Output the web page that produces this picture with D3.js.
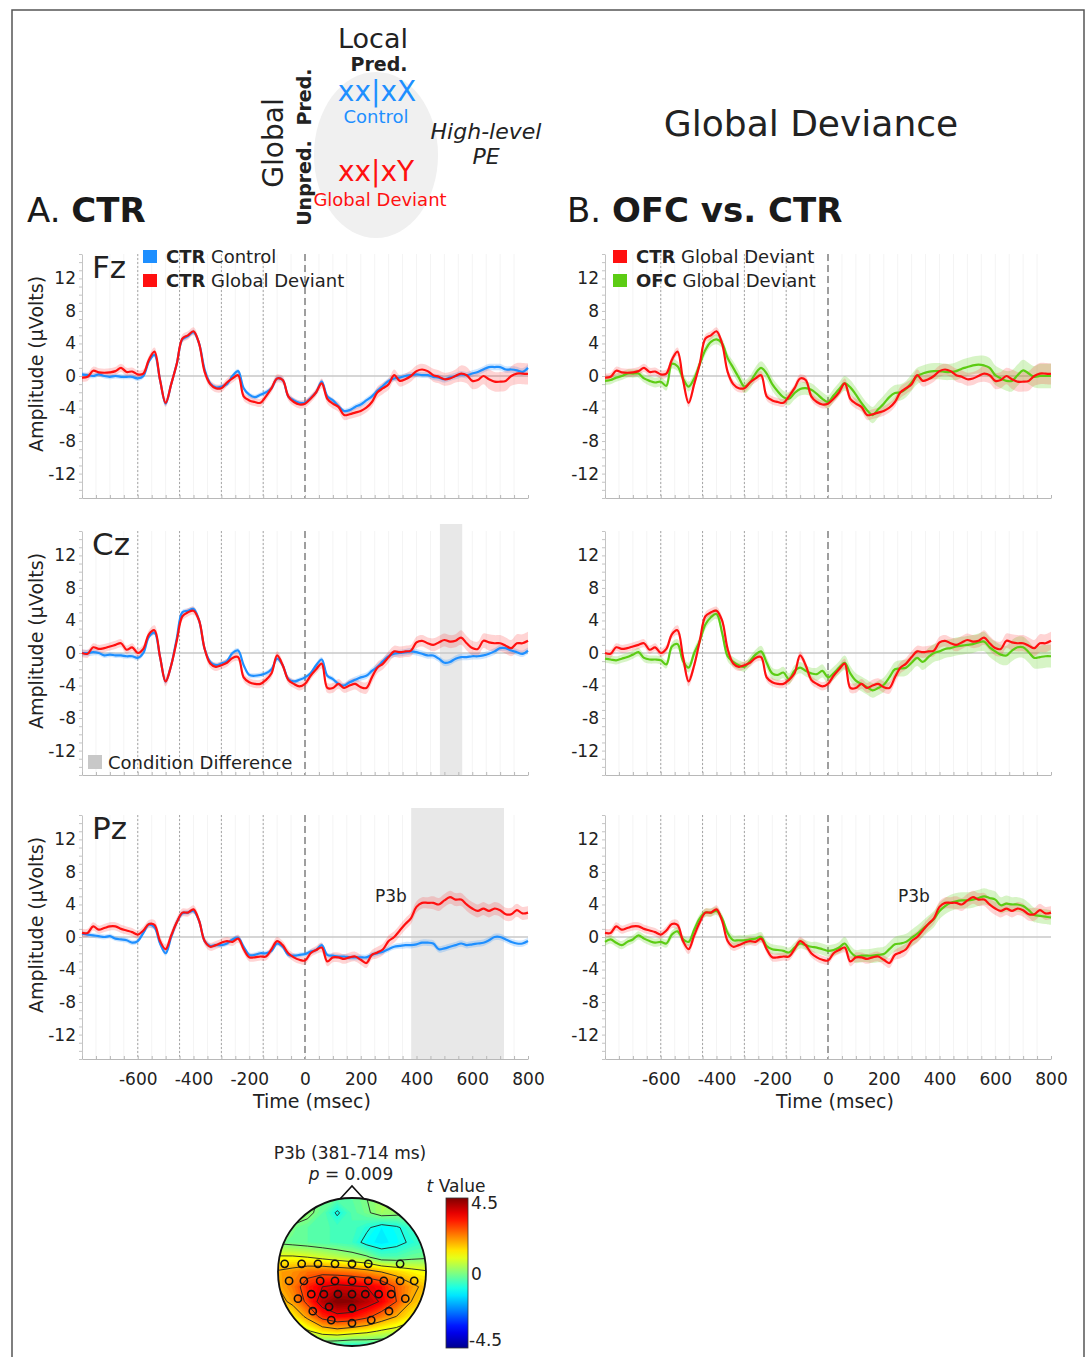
<!DOCTYPE html>
<html>
<head>
<meta charset="utf-8">
<script src="https://cdn.jsdelivr.net/npm/d3@7"></script>
<style>
  body { margin: 0; background: #fff; }
  svg text { font-family: "DejaVu Sans", Verdana, sans-serif; }
</style>
</head>
<body>
<div id="fig"></div>
<script>
// ---- data: ERP waveforms sampled every 20 ms from -800 to 800 ms (µV) ----
const times = d3.range(-800, 801, 20);

const fzCtrControl = [0.2,0.1,0.0,0.2,0.0,-0.1,0.0,-0.1,-0.1,-0.1,
  -0.3,0.0,1.8,2.6,-0.5,-3.4,-1.0,1.5,4.5,4.9,
  5.4,4.0,0.8,-0.9,-1.4,-1.3,-1.0,0.0,0.6,-1.5,
  -2.3,-2.6,-2.3,-2.0,-1.5,-0.3,-0.5,-2.5,-3.0,-3.3,
  -3.3,-2.7,-2.0,-0.7,-2.5,-3.0,-3.7,-4.3,-4.2,-3.8,
  -3.5,-3.0,-2.5,-1.8,-1.2,-0.6,-0.3,-0.2,0.0,0.1,
  0.2,0.1,0.1,-0.1,-0.2,-0.4,-0.2,0.0,0.2,0.1,
  0.3,0.5,0.8,1.1,1.1,1.1,0.8,0.8,0.7,0.5,1.0];
const fzCtrDeviant = [-0.2,-0.1,0.65,0.45,0.4,0.45,0.6,1.0,0.5,0.55,
  0.2,0.3,2.0,3.0,-0.5,-3.3,-1.0,1.5,4.6,5.0,
  5.5,4.0,0.5,-1.0,-1.5,-1.5,-0.8,-0.3,0.1,-2.5,
  -3.0,-3.2,-3.3,-2.5,-1.5,-0.3,-0.5,-2.5,-3.2,-3.5,
  -3.4,-2.8,-2.0,-0.9,-2.8,-3.4,-3.8,-4.8,-4.7,-4.5,
  -4.3,-3.9,-3.2,-2.0,-1.5,-1.0,0.1,-0.6,-0.4,0.0,
  0.6,0.8,0.6,0.1,-0.1,-0.4,-0.3,0.0,0.3,0.1,
  -0.6,-0.5,0.0,-0.4,-0.7,-0.7,-0.6,0.0,0.3,0.3,0.25];
const fzOfcDeviant = [-0.6,-0.5,-0.2,0.0,0.3,0.3,0.3,-0.3,-0.6,-0.8,
  -0.7,-1.2,1.5,1.2,-0.3,-1.3,-0.3,1.5,3.2,4.2,
  4.5,4.0,2.2,1.0,-0.2,-1.3,-0.8,0.3,1.0,0.3,
  -1.0,-1.9,-2.6,-2.8,-2.1,-1.6,-1.5,-1.7,-2.2,-2.8,
  -3.2,-2.4,-1.6,-0.9,-1.4,-2.3,-3.3,-4.2,-4.8,-4.1,
  -3.4,-2.6,-2.1,-2.0,-1.6,-0.8,0.0,0.3,0.5,0.6,
  0.6,0.5,0.5,0.6,0.9,1.1,1.3,1.4,1.3,1.0,
  0.1,-0.3,-0.6,-0.6,0.1,0.7,0.3,-0.1,0.0,0.0,0.0];

const czCtrControl = [0.0,0.0,0.1,0.0,-0.3,-0.2,-0.3,-0.3,-0.4,-0.4,
  -0.6,0.0,2.0,2.5,-0.5,-3.5,-1.5,1.8,5.0,5.2,
  5.4,4.0,0.5,-1.1,-1.5,-1.3,-1.0,0.0,0.3,-1.5,
  -2.7,-2.8,-2.7,-2.5,-2.0,-0.7,-1.5,-3.2,-3.5,-3.3,
  -3.0,-2.5,-1.5,-0.8,-2.8,-3.2,-3.8,-4.0,-3.6,-3.3,
  -3.0,-2.8,-2.2,-1.7,-1.0,-0.4,-0.1,0.0,0.1,0.2,
  0.1,-0.1,-0.3,-0.3,-0.7,-1.2,-1.1,-0.7,-0.5,-0.5,
  -0.4,-0.4,-0.3,-0.1,0.2,0.6,0.6,0.3,0.1,-0.1,0.3];
const czCtrDeviant = [0.0,-0.1,0.7,0.5,0.6,0.8,1.0,1.2,0.4,0.7,
  0.0,0.5,2.3,2.8,-0.5,-3.5,-1.5,1.5,4.5,5.0,
  5.2,4.0,0.5,-1.3,-1.7,-1.5,-1.2,-0.6,-0.5,-3.0,
  -3.6,-3.8,-3.8,-3.3,-2.5,-0.3,-1.5,-3.3,-3.8,-4.1,
  -3.8,-2.8,-2.0,-1.3,-4.3,-4.3,-3.8,-4.3,-4.0,-3.8,
  -4.2,-4.3,-3.0,-1.8,-1.3,-0.5,0.2,0.1,0.2,0.3,
  1.3,1.5,1.2,1.0,1.3,1.6,1.4,1.5,1.9,1.2,
  0.6,0.5,1.5,1.3,1.2,1.2,0.9,0.6,1.2,1.2,1.5];
const czOfcDeviant = [-0.7,-0.8,-0.9,-0.7,-0.5,-0.2,0.1,-0.6,-0.8,-0.8,
  -0.9,-1.4,0.8,1.1,-1.0,-1.8,0.0,1.5,3.5,4.4,
  4.8,2.5,-0.4,-1.1,-1.5,-1.7,-1.0,-0.2,0.2,-1.2,
  -2.5,-2.7,-2.4,-3.2,-2.2,-1.8,-2.2,-2.5,-2.6,-2.2,
  -3.0,-2.5,-1.8,-1.2,-2.5,-3.4,-3.8,-4.2,-4.6,-4.3,
  -3.9,-3.0,-2.0,-1.9,-1.8,-1.2,-0.6,-1.1,-0.5,0.0,
  0.2,0.5,0.6,0.8,0.9,1.0,1.1,1.3,1.4,0.7,
  0.2,-0.2,-0.3,0.3,0.7,0.7,0.1,-0.6,-0.5,-0.4,-0.4];

const pzCtrControl = [0.4,0.3,0.2,0.1,0.0,0.1,-0.2,-0.3,-0.4,-0.7,
  -0.5,0.5,1.5,1.2,-0.8,-2.0,0.0,1.8,2.9,3.0,
  3.2,2.0,-0.5,-1.1,-1.0,-1.0,-0.8,-0.3,-0.1,-1.2,
  -2.2,-2.2,-2.0,-2.0,-1.7,-0.8,-1.2,-2.2,-2.3,-2.2,
  -2.1,-1.8,-1.6,-1.0,-2.2,-2.3,-2.4,-2.4,-2.5,-2.5,
  -2.5,-2.5,-2.2,-2.0,-1.8,-1.5,-1.2,-1.1,-1.0,-1.0,
  -0.9,-0.7,-0.7,-0.8,-1.5,-1.4,-1.2,-1.0,-0.8,-1.0,
  -0.9,-0.8,-0.7,-0.4,0.0,0.0,-0.3,-0.6,-0.8,-0.8,-0.5];
const pzCtrDeviant = [0.5,0.5,1.3,0.9,1.1,1.3,1.3,1.0,0.8,0.6,
  0.3,0.8,1.6,1.5,-0.5,-1.5,0.2,1.8,3.0,3.0,
  3.4,2.0,-0.5,-1.2,-1.0,-0.7,-0.5,-0.6,-0.2,-1.5,
  -2.5,-2.5,-2.4,-2.4,-1.5,-0.5,-1.0,-2.0,-2.5,-2.8,
  -2.9,-2.0,-1.6,-1.3,-3.0,-2.5,-2.5,-2.7,-2.5,-2.4,
  -2.8,-3.2,-2.2,-1.9,-1.5,-0.5,0.0,0.8,1.6,2.3,
  3.7,4.2,4.2,4.2,4.0,4.5,4.9,4.6,4.6,4.0,
  3.5,3.2,3.5,3.2,3.5,3.3,2.8,2.8,3.3,2.9,3.0];
const pzOfcDeviant = [-0.6,-0.3,-0.7,-1.0,-0.6,-0.3,0.2,-0.2,-0.5,-0.7,
  -0.6,-0.8,0.3,0.7,-0.3,-0.6,0.9,2.3,3.0,3.0,
  3.2,2.3,0.5,-0.4,-0.4,-0.4,-0.3,-0.2,0.0,-1.1,
  -1.5,-1.6,-1.7,-1.9,-1.3,-0.8,-1.0,-1.2,-1.3,-1.5,
  -1.7,-1.6,-1.3,-0.8,-1.8,-2.4,-2.3,-2.3,-2.3,-2.2,
  -2.1,-1.5,-0.9,-0.8,-0.6,-0.1,0.4,1.0,1.6,2.2,
  3.2,3.8,4.2,4.4,4.5,4.5,4.6,4.8,5.0,4.8,
  4.6,3.9,4.1,4.0,4.0,3.8,3.3,2.7,2.6,2.5,2.4];

// standard error half-widths, one value per 100 ms (-800 ... 800)
const fzCtrControlSE = [0.3,0.3,0.3,0.3,0.3,0.3,0.3,0.3,0.3,0.3,0.35,0.35,0.35,0.4,0.4,0.4,0.45];
const fzCtrDeviantSE = [0.5,0.5,0.5,0.5,0.5,0.5,0.5,0.5,0.5,0.6,0.6,0.7,0.7,0.8,1.0,1.2,1.3];
const fzOfcDeviantSE = [0.5,0.5,0.6,0.6,0.6,0.8,0.8,0.8,0.8,0.9,1.0,1.0,1.0,1.1,1.2,1.3,1.5];
const czCtrControlSE = [0.4,0.3,0.3,0.3,0.3,0.3,0.3,0.3,0.3,0.3,0.4,0.4,0.4,0.4,0.4,0.4,0.4];
const czCtrDeviantSE = [0.5,0.5,0.5,0.6,0.5,0.5,0.5,0.5,0.5,0.6,0.7,0.7,0.7,0.8,0.9,1.0,1.1];
const czOfcDeviantSE = [0.5,0.5,0.5,0.6,0.6,0.6,0.7,0.7,0.8,0.9,0.9,1.0,1.1,1.1,1.2,1.3,1.4];
const pzCtrControlSE = [0.3,0.3,0.3,0.3,0.3,0.3,0.3,0.3,0.3,0.3,0.35,0.35,0.4,0.4,0.4,0.4,0.4];
const pzCtrDeviantSE = [0.5,0.5,0.5,0.6,0.5,0.5,0.5,0.5,0.5,0.6,0.6,0.7,0.7,0.8,0.8,0.8,0.8];
const pzOfcDeviantSE = [0.5,0.5,0.5,0.5,0.5,0.6,0.6,0.6,0.7,0.8,0.9,1.0,1.0,1.0,1.0,0.9,0.9];

const markerTimes = [-600, -450, -300, -150];
const xTickLabels = [-600, -400, -200, 0, 200, 400, 600, 800];
const yTickLabels = [-12, -8, -4, 0, 4, 8, 12];
const shadeCz = [484, 564];
const shadePz = [381, 714];
const p3bLabel = { t: 308, v: 4.3 };

// topomap: t-values on an 11x11 grid over the head (rows top->bottom)
const topoGrid = [
  [0.1,0.2,0.2,-0.1,-0.3,-0.3,0.0,0.3,0.3,0.1,0.0],
  [0.3,0.4,0.2,-0.3,-1.0,-0.4,-0.1,0.3,0.2,0.0,-0.1],
  [0.0,-0.1,-0.3,-0.4,-0.5,-0.5,-0.8,-1.2,-1.0,-0.6,-0.3],
  [-0.1,-0.2,-0.3,-0.4,-0.5,-0.6,-1.1,-1.3,-1.1,-0.8,-0.6],
  [1.0,1.0,0.9,0.7,0.5,0.3,0.1,-0.4,-0.4,-0.2,-0.1],
  [1.9,2.1,2.4,2.5,2.4,2.3,2.1,1.8,1.5,1.2,1.0],
  [1.8,2.3,3.1,3.6,3.8,3.7,3.6,3.3,2.6,2.0,1.6],
  [1.5,2.0,2.9,4.0,4.5,4.4,4.0,3.5,2.7,1.8,1.4],
  [0.8,1.2,2.0,3.0,3.4,3.3,2.9,2.3,1.8,1.2,1.0],
  [0.3,0.4,0.8,1.3,1.5,1.3,1.1,0.8,0.6,0.4,0.3],
  [-0.6,-0.6,-0.5,-0.6,-0.8,-0.9,-0.8,-0.7,-0.6,-0.6,-0.6]
];
// significant electrodes, head units (x right, y down, radius 1)
const sigElectrodes = [
  [-0.91,-0.11],[-0.68,-0.11],[-0.46,-0.11],[-0.23,-0.11],[0,-0.11],[0.22,-0.11],[0.65,-0.11],
  [-0.85,0.12],[-0.65,0.12],[-0.43,0.12],[-0.23,0.12],[0,0.12],[0.22,0.12],[0.43,0.12],[0.65,0.12],[0.84,0.12],
  [-0.73,0.36],[-0.55,0.30],[-0.38,0.30],[-0.19,0.30],[0,0.30],[0.18,0.30],[0.36,0.30],[0.53,0.30],[0.72,0.36],
  [-0.53,0.53],[-0.31,0.47],[0,0.49],[0.5,0.53],
  [-0.28,0.65],[0.26,0.65],[0,0.69]
];
const contourLevels = [-0.9, 0, 0.9, 1.8, 2.7, 3.6];

// ---- colours ----
const BLUE = "#1e8fff", RED = "#ff1010", GREEN = "#5ccc14";
const BLUE_BAND = "rgba(30,143,255,0.22)", RED_BAND = "rgba(255,40,40,0.2)", GREEN_BAND = "rgba(110,215,50,0.28)";
const plain = d => String(d);   // hyphen minus, as in the original figure

const svg = d3.select("#fig").append("svg").attr("width", 1091).attr("height", 1357);

// outer frame
svg.append("rect").attr("x", 12).attr("y", 10).attr("width", 1072).attr("height", 1400)
  .attr("fill", "none").attr("stroke", "#555").attr("stroke-width", 1.5);

const cols = [{ x0: 82, x1: 528 }, { x0: 605, x1: 1051 }];
const rows = [{ y0: 254, y1: 498 }, { y0: 531, y1: 775 }, { y0: 815, y1: 1059 }];

function drawPanel(col, row, series, opts) {
  const x = d3.scaleLinear().domain([-800, 800]).range([col.x0, col.x1]);
  const y = d3.scaleLinear().domain([-15, 15]).range([row.y1, row.y0]);
  const g = svg.append("g");

  // faint vertical grid every 50 ms
  g.selectAll("line.grid").data(d3.range(-750, 800, 50)).join("line")
    .attr("x1", d => x(d)).attr("x2", d => x(d)).attr("y1", row.y0).attr("y2", row.y1)
    .attr("stroke", "#f4f4f4").attr("stroke-width", 1);

  if (opts.shade) {
    g.append("rect").attr("x", x(opts.shade[0])).attr("width", x(opts.shade[1]) - x(opts.shade[0]))
      .attr("y", row.y0 - 7).attr("height", row.y1 - row.y0 + 7).attr("fill", "#e8e8e8");
  }

  g.append("line").attr("x1", col.x0).attr("x2", col.x1).attr("y1", y(0)).attr("y2", y(0))
    .attr("stroke", "#c8c8c8").attr("stroke-width", 1.5);

  g.selectAll("line.mark").data(markerTimes).join("line")
    .attr("x1", d => x(d)).attr("x2", d => x(d)).attr("y1", row.y0).attr("y2", row.y1)
    .attr("stroke", "#a4a4a4").attr("stroke-width", 1).attr("stroke-dasharray", "2,2");
  g.append("line").attr("x1", x(0)).attr("x2", x(0)).attr("y1", row.y0).attr("y2", row.y1)
    .attr("stroke", "#888").attr("stroke-width", 1.6).attr("stroke-dasharray", "7,4");

  // y axis: minor ticks every 1 µV, labels every 4
  const ym = g.append("g").attr("transform", `translate(${col.x0},0)`)
    .call(d3.axisLeft(y).tickValues(d3.range(-15, 16)).tickSize(3).tickSizeOuter(0).tickFormat(""));
  ym.selectAll("path, line").attr("stroke", "#c4c4c4");
  const yl = g.append("g").attr("transform", `translate(${col.x0},0)`)
    .call(d3.axisLeft(y).tickValues(yTickLabels).tickFormat(plain).tickSize(0).tickPadding(6));
  yl.select(".domain").remove();
  yl.selectAll("text").attr("font-size", 17).attr("fill", "#222")
    .style("font-family", "'DejaVu Sans', Verdana, sans-serif");

  // x axis: minor ticks every 50 ms
  const xm = g.append("g").attr("transform", `translate(0,${row.y1})`)
    .call(d3.axisBottom(x).tickValues(d3.range(-800, 801, 50)).tickSize(-3).tickSizeOuter(0).tickFormat(""));
  xm.selectAll("path, line").attr("stroke", "#b8b8b8");
  if (opts.xLabels) {
    const xl = g.append("g").attr("transform", `translate(0,${row.y1})`)
      .call(d3.axisBottom(x).tickValues(xTickLabels).tickFormat(plain).tickSize(0).tickPadding(14));
    xl.select(".domain").remove();
    xl.selectAll("text").attr("font-size", 17).attr("fill", "#222")
      .style("font-family", "'DejaVu Sans', Verdana, sans-serif");
    g.append("text").attr("x", x(25)).attr("y", row.y1 + 49).attr("text-anchor", "middle")
      .attr("font-size", 19).attr("fill", "#222").text("Time (msec)");
  }
  if (opts.yTitle) {
    g.append("text").attr("transform", `translate(${col.x0 - 39},${(row.y0 + row.y1) / 2 - 12}) rotate(-90)`)
      .attr("text-anchor", "middle").attr("font-size", 19).attr("fill", "#222").text("Amplitude (\u03bcVolts)");
  }

  // bands then lines
  const pts = s => times.map((t, i) => ({ t, v: s.values[i], se: s.se[Math.round((t + 800) / 100)] }));
  const area = d3.area().curve(d3.curveCatmullRom.alpha(0.5))
    .x(d => x(d.t)).y0(d => y(d.v - d.se)).y1(d => y(d.v + d.se));
  const line = d3.line().curve(d3.curveCatmullRom.alpha(0.5)).x(d => x(d.t)).y(d => y(d.v));
  series.forEach(s => g.append("path").datum(pts(s)).attr("d", area).attr("fill", s.band));
  series.forEach(s => g.append("path").datum(pts(s)).attr("d", line)
    .attr("fill", "none").attr("stroke", s.color).attr("stroke-width", 2.2).attr("stroke-linejoin", "round"));

  if (opts.p3b) {
    g.append("text").attr("x", x(p3bLabel.t)).attr("y", y(p3bLabel.v)).attr("text-anchor", "middle")
      .attr("font-size", 17).attr("fill", "#222").text("P3b");
  }
  if (opts.name) {
    g.append("text").attr("x", col.x0 + 10).attr("y", row.y0 + 24).attr("font-size", 31)
      .attr("fill", "#222").text(opts.name);
  }
  return { g, x, y };
}

function legend(x0, y0, items) {
  items.forEach((it, i) => {
    const yy = y0 + i * 24;
    svg.append("rect").attr("x", x0).attr("y", yy).attr("width", 14).attr("height", 13).attr("fill", it.color);
    const t = svg.append("text").attr("x", x0 + 23).attr("y", yy + 13).attr("font-size", 18).attr("fill", "#222");
    t.append("tspan").attr("font-weight", "bold").text(it.bold);
    t.append("tspan").text(" " + it.label);
  });
}

const S = (values, se, color, band) => ({ values, se, color, band });

// left column: CTR control vs CTR global deviant
drawPanel(cols[0], rows[0], [S(fzCtrControl, fzCtrControlSE, BLUE, BLUE_BAND), S(fzCtrDeviant, fzCtrDeviantSE, RED, RED_BAND)],
  { yTitle: true, name: "Fz" });
drawPanel(cols[0], rows[1], [S(czCtrControl, czCtrControlSE, BLUE, BLUE_BAND), S(czCtrDeviant, czCtrDeviantSE, RED, RED_BAND)],
  { yTitle: true, name: "Cz", shade: shadeCz });
drawPanel(cols[0], rows[2], [S(pzCtrControl, pzCtrControlSE, BLUE, BLUE_BAND), S(pzCtrDeviant, pzCtrDeviantSE, RED, RED_BAND)],
  { yTitle: true, name: "Pz", shade: shadePz, xLabels: true, p3b: true });

// right column: OFC vs CTR global deviant
drawPanel(cols[1], rows[0], [S(fzOfcDeviant, fzOfcDeviantSE, GREEN, GREEN_BAND), S(fzCtrDeviant, fzCtrDeviantSE, RED, RED_BAND)], {});
drawPanel(cols[1], rows[1], [S(czOfcDeviant, czOfcDeviantSE, GREEN, GREEN_BAND), S(czCtrDeviant, czCtrDeviantSE, RED, RED_BAND)], {});
drawPanel(cols[1], rows[2], [S(pzOfcDeviant, pzOfcDeviantSE, GREEN, GREEN_BAND), S(pzCtrDeviant, pzCtrDeviantSE, RED, RED_BAND)],
  { xLabels: true, p3b: true });

legend(143, 250, [{ color: BLUE, bold: "CTR", label: "Control" }, { color: RED, bold: "CTR", label: "Global Deviant" }]);
legend(613, 250, [{ color: RED, bold: "CTR", label: "Global Deviant" }, { color: GREEN, bold: "OFC", label: "Global Deviant" }]);
svg.append("rect").attr("x", 88).attr("y", 755).attr("width", 14).attr("height", 14).attr("fill", "#c8c8c8");
svg.append("text").attr("x", 108).attr("y", 769).attr("font-size", 18).attr("fill", "#222").text("Condition Difference");

// panel titles
const tA = svg.append("text").attr("x", 27).attr("y", 222).attr("font-size", 34).attr("fill", "#1a1a1a");
tA.append("tspan").text("A. ");
tA.append("tspan").attr("font-weight", "bold").text("CTR");
const tB = svg.append("text").attr("x", 567).attr("y", 222).attr("font-size", 34).attr("fill", "#1a1a1a");
tB.append("tspan").text("B. ");
tB.append("tspan").attr("font-weight", "bold").text("OFC vs. CTR");
svg.append("text").attr("x", 811).attr("y", 136).attr("text-anchor", "middle").attr("font-size", 36)
  .attr("fill", "#222").text("Global Deviance");

// paradigm diagram
svg.append("ellipse").attr("cx", 376).attr("cy", 155).attr("rx", 62).attr("ry", 83).attr("fill", "#f0f0f0");
svg.append("text").attr("x", 373).attr("y", 48).attr("text-anchor", "middle").attr("font-size", 27).attr("fill", "#222").text("Local");
svg.append("text").attr("x", 379).attr("y", 71).attr("text-anchor", "middle").attr("font-size", 19)
  .attr("font-weight", "bold").attr("fill", "#222").text("Pred.");
svg.append("text").attr("x", 377).attr("y", 101).attr("text-anchor", "middle").attr("font-size", 28).attr("fill", BLUE).text("xx|xX");
svg.append("text").attr("x", 376).attr("y", 123).attr("text-anchor", "middle").attr("font-size", 18).attr("fill", BLUE).text("Control");
svg.append("text").attr("x", 376).attr("y", 181).attr("text-anchor", "middle").attr("font-size", 28).attr("fill", RED).text("xx|xY");
svg.append("text").attr("x", 380).attr("y", 206).attr("text-anchor", "middle").attr("font-size", 18).attr("fill", RED).text("Global Deviant");
svg.append("text").attr("transform", "translate(283,143) rotate(-90)").attr("text-anchor", "middle")
  .attr("font-size", 28).attr("fill", "#222").text("Global");
svg.append("text").attr("transform", "translate(311,97) rotate(-90)").attr("text-anchor", "middle")
  .attr("font-size", 19).attr("font-weight", "bold").attr("fill", "#222").text("Pred.");
svg.append("text").attr("transform", "translate(311,183) rotate(-90)").attr("text-anchor", "middle")
  .attr("font-size", 19).attr("font-weight", "bold").attr("fill", "#222").text("Unpred.");
svg.append("text").attr("x", 486).attr("y", 139).attr("text-anchor", "middle").attr("font-size", 22)
  .attr("font-style", "italic").attr("fill", "#222").text("High-level");
svg.append("text").attr("x", 486).attr("y", 164).attr("text-anchor", "middle").attr("font-size", 22)
  .attr("font-style", "italic").attr("fill", "#222").text("PE");

// ---- topomap ----
const head = { cx: 352, cy: 1272, r: 74 };
const jet = d3.scaleLinear().domain([-4.5, -3.375, -1.125, 1.125, 3.375, 4.5])
  .range(["#00008f", "#0000ff", "#00ffff", "#ffff00", "#ff0000", "#800000"]).clamp(true);
const n = topoGrid.length;
const values = topoGrid.flat();
const cell = 2 * head.r / (n - 1);
const proj = d3.geoPath(d3.geoIdentity().scale(cell)
  .translate([head.cx - head.r - cell / 2, head.cy - head.r - cell / 2]));

svg.append("text").attr("x", 350).attr("y", 1159).attr("text-anchor", "middle").attr("font-size", 17)
  .attr("fill", "#222").text("P3b (381-714 ms)");
const pt = svg.append("text").attr("x", 351).attr("y", 1180).attr("text-anchor", "middle").attr("font-size", 17).attr("fill", "#222");
pt.append("tspan").attr("font-style", "italic").text("p");
pt.append("tspan").text(" = 0.009");

svg.append("path")
  .attr("d", `M${head.cx - 12},${head.cy - head.r + 1}L${head.cx},${head.cy - head.r - 12}L${head.cx + 12},${head.cy - head.r + 1}`)
  .attr("fill", "#fff").attr("stroke", "#111").attr("stroke-width", 1.6);

svg.append("clipPath").attr("id", "headClip").append("circle")
  .attr("cx", head.cx).attr("cy", head.cy).attr("r", head.r);
const tg = svg.append("g").attr("clip-path", "url(#headClip)");
const fillLevels = d3.range(-4.5, 4.5, 0.15);
tg.selectAll("path.band").data(d3.contours().size([n, n]).thresholds(fillLevels)(values)).join("path")
  .attr("d", proj).attr("fill", d => jet(d.value + 0.075)).attr("stroke", d => jet(d.value + 0.075)).attr("stroke-width", 0.3);
tg.selectAll("path.iso").data(d3.contours().size([n, n]).thresholds(contourLevels)(values)).join("path")
  .attr("d", proj).attr("fill", "none").attr("stroke", "#222").attr("stroke-width", 0.9);
svg.append("circle").attr("cx", head.cx).attr("cy", head.cy).attr("r", head.r)
  .attr("fill", "none").attr("stroke", "#111").attr("stroke-width", 1.8);
svg.selectAll("circle.el").data(sigElectrodes).join("circle")
  .attr("cx", d => head.cx + d[0] * head.r).attr("cy", d => head.cy + d[1] * head.r).attr("r", 3.6)
  .attr("fill", "none").attr("stroke", "#111").attr("stroke-width", 1.6);

// colour bar
const cb = { x: 446, w: 22, y0: 1198, y1: 1348 };
const cbScale = d3.scaleLinear().domain([4.5, -4.5]).range([cb.y0, cb.y1]);
const grad = svg.append("defs").append("linearGradient").attr("id", "jetGrad")
  .attr("x1", 0).attr("x2", 0).attr("y1", 0).attr("y2", 1);
grad.selectAll("stop").data(d3.range(0, 1.0001, 0.05)).join("stop")
  .attr("offset", d => d).attr("stop-color", d => jet(4.5 - 9 * d));
svg.append("rect").attr("x", cb.x).attr("y", cb.y0).attr("width", cb.w).attr("height", cb.y1 - cb.y0)
  .attr("fill", "url(#jetGrad)").attr("stroke", "#333").attr("stroke-width", 0.8);
[[4.5, "4.5", 11], [0, "0", 7], [-4.5, "-4.5", -2]].forEach(([v, s, dy]) => {
  svg.append("text").attr("x", cb.x + cb.w + (v < 0 ? 1 : 3)).attr("y", cbScale(v) + dy)
    .attr("font-size", 17).attr("fill", "#222").text(s);
});
const tv = svg.append("text").attr("x", 456).attr("y", 1192).attr("text-anchor", "middle").attr("font-size", 17).attr("fill", "#222");
tv.append("tspan").attr("font-style", "italic").text("t");
tv.append("tspan").text(" Value");
</script>
</body>
</html>
